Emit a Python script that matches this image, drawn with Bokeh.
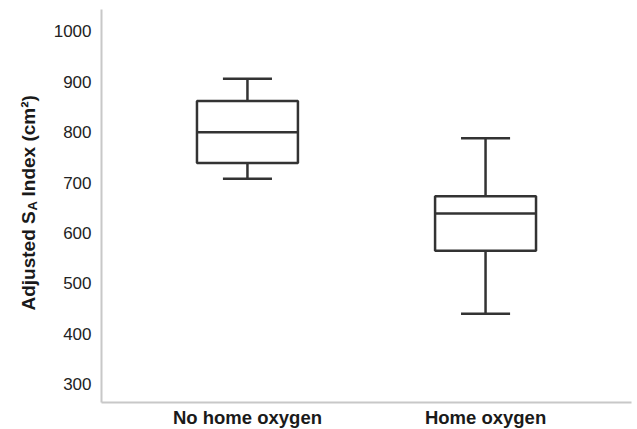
import math
from bokeh.plotting import figure
from bokeh.layouts import row
from bokeh.models import FactorRange, Range1d, FixedTicker, ColumnDataSource
from bokeh.core.properties import value
from bokeh.transform import dodge
from bokeh.embed import file_html
from bokeh.resources import INLINE

groups = ["No home oxygen", "Home oxygen"]
whisker_low = [708, 440]
q1 = [739, 565]
median = [800, 639]
q3 = [862, 673]
whisker_high = [906, 788]
y_ticks = [300, 400, 500, 600, 700, 800, 900, 1000]
title_main = "Adjusted S"
title_sub = "A"
title_rest = "Index (cm\u00b2)"

src = ColumnDataSource(dict(g=groups, lo=whisker_low, q1=q1, med=median,
                            q3=q3, hi=whisker_high))

FRAME_H = 393
LEFT_W = 46
PAD = 0.113
p = figure(x_range=FactorRange(factors=groups, range_padding=PAD,
                               range_padding_units="absolute"),
           y_range=Range1d(263.9, 1043.6),
           frame_width=530, frame_height=FRAME_H,
           min_border_left=101 - LEFT_W, min_border_right=6, min_border_top=9,
           min_border_bottom=27,
           output_backend="svg", toolbar_location=None,
           background_fill_color="white", border_fill_color="white")

LC = "#333333"
LW = 2.5
BOX_W = 0.424
CAP_W = 0.206

# whiskers
p.segment(x0="g", x1="g", y0="q3", y1="hi", line_color=LC, line_width=LW, source=src)
p.segment(x0="g", x1="g", y0="lo", y1="q1", line_color=LC, line_width=LW, source=src)
# caps
p.segment(x0=dodge("g", -CAP_W / 2, range=p.x_range), x1=dodge("g", CAP_W / 2, range=p.x_range),
          y0="hi", y1="hi", line_color=LC, line_width=LW, source=src)
p.segment(x0=dodge("g", -CAP_W / 2, range=p.x_range), x1=dodge("g", CAP_W / 2, range=p.x_range),
          y0="lo", y1="lo", line_color=LC, line_width=LW, source=src)
# boxes
p.vbar(x="g", top="q3", bottom="q1", width=BOX_W, fill_color="white",
       line_color=LC, line_width=LW, source=src)
# medians
p.segment(x0=dodge("g", -BOX_W / 2, range=p.x_range), x1=dodge("g", BOX_W / 2, range=p.x_range),
          y0="med", y1="med", line_color=LC, line_width=LW, source=src)

p.xgrid.visible = False
p.ygrid.visible = False
p.outline_line_color = None

for ax in p.axis:
    ax.axis_line_color = "#c8c8c8"
    ax.axis_line_width = 2
    ax.major_tick_line_color = None
    ax.minor_tick_line_color = None
    ax.major_tick_out = 0
    ax.major_tick_in = 0

p.yaxis.ticker = FixedTicker(ticks=y_ticks)
p.yaxis.major_label_text_font = "Liberation Sans"
p.yaxis.major_label_text_font_size = "17px"
p.yaxis.major_label_text_color = "#222222"
p.yaxis.major_label_standoff = 10

p.xaxis.major_label_text_font = "Liberation Sans"
p.xaxis.major_label_text_font_style = "bold"
p.xaxis.major_label_text_font_size = "18.5px"
p.xaxis.major_label_text_color = "#1a1a1a"
p.xaxis.major_label_standoff = 4

# narrow panel on the left carrying the rotated y-axis title (with subscript);
# its frame is aligned with the main frame by the row layout (pixel units)
t = figure(frame_width=LEFT_W, frame_height=FRAME_H,
           x_range=Range1d(0, LEFT_W), y_range=Range1d(0, FRAME_H),
           min_border=0, min_border_left=0, min_border_right=0,
           min_border_top=9, min_border_bottom=27,
           x_axis_location=None, y_axis_location=None,
           output_backend="svg", toolbar_location=None,
           background_fill_color="white", border_fill_color="white")
t.xgrid.visible = False
t.ygrid.visible = False
t.outline_line_color = None

tc = "#1a1a1a"
FS = 19
base_x = 28
base_y = 402 - 310
sub_y = base_y + 100
rest_y = sub_y + 14
common = dict(angle=math.pi / 2, text_align="left", text_baseline="alphabetic",
              text_font=value("Liberation Sans"), text_font_style="bold", text_color=tc)
t.text(x=[base_x], y=[base_y], text=[title_main], text_font_size=f"{FS}px", **common)
t.text(x=[base_x + 4], y=[sub_y], text=[title_sub], text_font_size="13px", **common)
t.text(x=[base_x], y=[rest_y], text=[title_rest], text_font_size=f"{FS}px", **common)

layout = row(t, p, spacing=0)
open("out.html", "w").write(file_html(layout, INLINE))
